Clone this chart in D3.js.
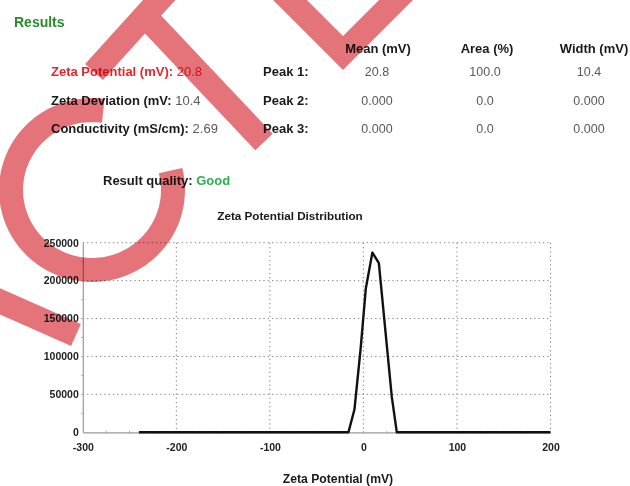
<!DOCTYPE html>
<html>
<head>
<meta charset="utf-8">
<script src="https://cdn.jsdelivr.net/npm/d3@7"></script>
<style>
  body { margin: 0; background: #fff; }
  svg { display: block; font-family: "Liberation Sans", Arial, sans-serif; }
  .lbl { font-weight: bold; fill: #1a1a1a; font-size: 13px; }
  .val { fill: #595959; font-size: 12.5px; }
  .tick text { font-size: 10.5px; font-weight: bold; fill: #222; }
</style>
</head>
<body>
<div id="chart"></div>
<script>
// summary values from the results panel
const summaryLabels = ['Zeta Potential (mV):', 'Zeta Deviation (mV:', 'Conductivity (mS/cm):'];
const summaryValues = ['20.8', '10.4', '2.69'];

const peakNames = ['Peak 1:', 'Peak 2:', 'Peak 3:'];
const peakHeaders = ['Mean (mV)', 'Area (%)', 'Width (mV)'];
const peakMean = ['20.8', '0.000', '0.000'];
const peakArea = ['100.0', '0.0', '0.0'];
const peakWidth = ['10.4', '0.000', '0.000'];

// distribution curve
const zeta = [-240, -16, -9.6, -3, 2.6, 9.6, 16.5, 23.4, 30.3, 35.7, 200];
const counts = [0, 0, 30000, 110000, 190000, 237000, 223000, 135000, 47000, 0, 0];

const xTicks = [-300, -200, -100, 0, 100, 200];
const yTicks = [0, 50000, 100000, 150000, 200000, 250000];

const svgWidth = 630;
const svgHeight = 486;

var svg = d3.select('#chart')
    .append('svg')
    .attr('width', svgWidth)
    .attr('height', svgHeight);

// ---- results header text ----
svg.append('text')
    .attr('x', 14).attr('y', 27)
    .style('font-size', '14px').style('font-weight', 'bold')
    .attr('fill', '#2b8a2b')
    .text('Results');

var rowY = [75.5, 104.5, 132.5];

summaryLabels.forEach(function(lab, i) {
    var t = svg.append('text')
        .attr('x', 51).attr('y', rowY[i])
        .style('font-size', '13px');
    t.append('tspan')
        .style('font-weight', 'bold')
        .attr('fill', i === 0 ? '#e8242c' : '#1a1a1a')
        .text(lab + ' ');
    t.append('tspan')
        .attr('fill', i === 0 ? '#e8242c' : '#595959')
        .text(summaryValues[i]);
});

peakNames.forEach(function(p, i) {
    svg.append('text').attr('class', 'lbl')
        .attr('x', 263).attr('y', rowY[i])
        .text(p);
});

var colX = [378, 487, 594];
peakHeaders.forEach(function(h, j) {
    svg.append('text').attr('class', 'lbl')
        .attr('x', colX[j]).attr('y', 52.5)
        .attr('text-anchor', 'middle')
        .text(h);
});

var valX = [377, 485, 589];
[peakMean, peakArea, peakWidth].forEach(function(col, j) {
    col.forEach(function(v, i) {
        svg.append('text').attr('class', 'val')
            .attr('x', valX[j]).attr('y', rowY[i])
            .attr('text-anchor', 'middle')
            .text(v);
    });
});

var q = svg.append('text')
    .attr('x', 103).attr('y', 184.5)
    .style('font-size', '13px').style('font-weight', 'bold');
q.append('tspan').attr('fill', '#1a1a1a').text('Result quality: ');
q.append('tspan').attr('fill', '#2fae4f').text('Good');

// ---- distribution chart ----
svg.append('text')
    .attr('x', 290).attr('y', 220)
    .attr('text-anchor', 'middle')
    .style('font-size', '11.7px').style('font-weight', 'bold')
    .attr('fill', '#1a1a1a')
    .text('Zeta Potential Distribution');

var plotLeft = 82.8, plotRight = 550.5, plotTop = 242.7, plotBottom = 432.3;

var xScale = d3.scaleLinear()
    .domain([-300, 200])
    .range([plotLeft, plotRight]);

var yScale = d3.scaleLinear()
    .domain([0, 250000])
    .range([plotBottom, plotTop]);

// dotted grid
var grid = svg.append('g')
    .attr('stroke', '#808080')
    .attr('stroke-width', 1)
    .attr('stroke-dasharray', '1.3,3');

grid.selectAll('line.h')
    .data(yTicks.slice(1))
    .enter()
    .append('line')
    .attr('x1', plotLeft).attr('x2', plotRight)
    .attr('y1', d => yScale(d)).attr('y2', d => yScale(d));

grid.selectAll('line.v')
    .data(xTicks.slice(1))
    .enter()
    .append('line')
    .attr('x1', d => xScale(d)).attr('x2', d => xScale(d))
    .attr('y1', plotTop).attr('y2', plotBottom);

// axes
var bottomAxis = d3.axisBottom(xScale)
    .tickValues(xTicks)
    .tickFormat(d => String(d))
    .tickSize(0)
    .tickPadding(11);

var leftAxis = d3.axisLeft(yScale)
    .tickValues(yTicks)
    .tickFormat(d => String(d))
    .tickSize(0)
    .tickPadding(4);

var xg = svg.append('g')
    .attr('transform', `translate(0, ${plotBottom})`)
    .call(bottomAxis);

var yg = svg.append('g')
    .attr('transform', `translate(${plotLeft}, 0)`)
    .call(leftAxis);

[xg, yg].forEach(function(g) {
    g.select('.domain').attr('stroke', '#9a9a9a').attr('stroke-width', 1.2);
});

// minor ticks
svg.append('g').attr('stroke', '#aaa')
    .selectAll('line')
    .data(d3.range(25000, 250000, 25000))
    .enter()
    .append('line')
    .attr('x1', plotLeft - 1.5).attr('x2', plotLeft + 1.5)
    .attr('y1', d => yScale(d)).attr('y2', d => yScale(d));

svg.append('g').attr('stroke', '#aaa')
    .selectAll('line')
    .data(d3.range(-275, 200, 25))
    .enter()
    .append('line')
    .attr('x1', d => xScale(d)).attr('x2', d => xScale(d))
    .attr('y1', plotBottom - 1.5).attr('y2', plotBottom + 1.5);

// curve
var line = d3.line()
    .x((d, i) => xScale(zeta[i]))
    .y(d => yScale(d));

svg.append('path')
    .datum(counts)
    .attr('d', line)
    .attr('fill', 'none')
    .attr('stroke', '#111')
    .attr('stroke-width', 2.4)
    .attr('stroke-linejoin', 'round');

svg.append('text')
    .attr('x', 338).attr('y', 483)
    .attr('text-anchor', 'middle')
    .style('font-size', '12.2px').style('font-weight', 'bold')
    .attr('fill', '#1a1a1a')
    .text('Zeta Potential (mV)');

// ---- red stamp overlay ----
var stamp = svg.append('g')
    .attr('fill', 'none')
    .attr('stroke', 'rgb(228,116,122)')
    .attr('stroke-width', 24)
    .style('mix-blend-mode', 'multiply');

// T
stamp.append('line').attr('x1', 94).attr('y1', 72).attr('x2', 190).attr('y2', -34);
stamp.append('line').attr('x1', 145).attr('y1', 16).attr('x2', 264).attr('y2', 142);
// V
stamp.append('path').attr('d', 'M275,-15 L343,53 L411,-15').attr('stroke-linejoin', 'miter');
// C
var cx = 92, cy = 190, rx = 81, ry = 80;
var arcPts = d3.range(-14, 282, 4).map(function(a) {
    var r = a * Math.PI / 180;
    return [cx + rx * Math.cos(r), cy + ry * Math.sin(r)];
});
stamp.append('path').attr('d', d3.line()(arcPts));
// lower left bar
stamp.append('line').attr('x1', -30).attr('y1', 288).attr('x2', 76).attr('y2', 335);
</script>
</body>
</html>
